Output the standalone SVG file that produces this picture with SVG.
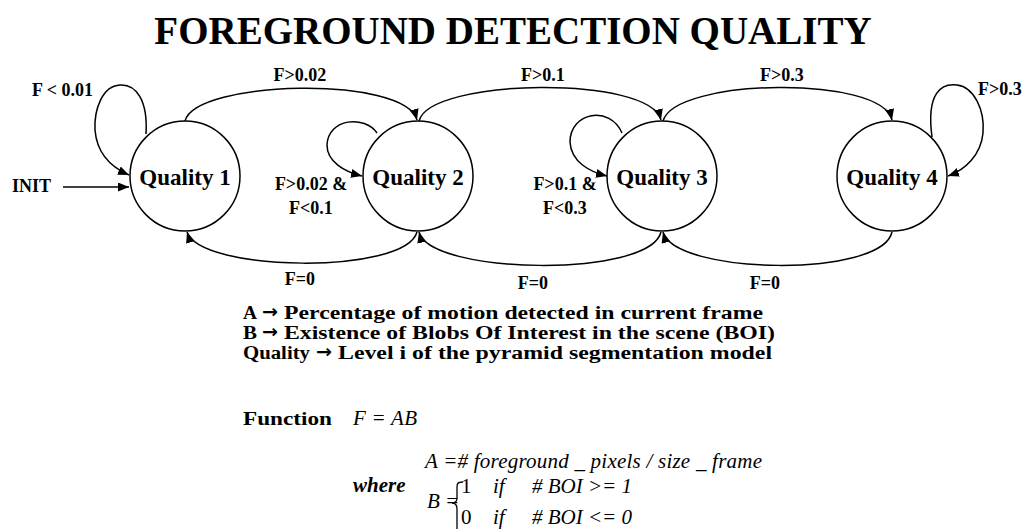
<svg xmlns="http://www.w3.org/2000/svg" width="1029" height="529" viewBox="0 0 1029 529">
<defs>
<marker id="ah" markerUnits="userSpaceOnUse" markerWidth="12" markerHeight="10" refX="11" refY="4.5" orient="auto">
<path d="M0,0 L11,4.5 L0,9 z" fill="#000"/>
</marker>
<style>
.st{fill:#fff;stroke:#000;stroke-width:1.5}
.ql{font-family:"Liberation Serif",serif;font-weight:bold;font-size:23px;text-anchor:middle}
.lb{font-family:"Liberation Serif",serif;font-weight:bold;font-size:18px}
.lg{font-family:"Liberation Serif",serif;font-weight:bold;font-size:18px}
.ar{font-family:"DejaVu Sans","Noto Sans",sans-serif;font-weight:bold;font-size:18px}
.c{text-anchor:middle}
.ed{fill:none;stroke:#000;stroke-width:1.5;marker-end:url(#ah)}
.m{font-family:"Liberation Serif",serif;font-style:italic;font-size:21px}
.n{font-family:"Liberation Serif",serif;font-size:21px}
</style>
</defs>
<rect width="1029" height="529" fill="#fff"/>
<text x="513" y="44" font-family="Liberation Serif, serif" font-weight="bold" font-size="39" text-anchor="middle">FOREGROUND DETECTION QUALITY</text>

<g id="connectors">
<path class="ed" d="M63,187 L129,187"/>
<path class="ed" d="M146,134 C148,100 136,84 120,85 C102,86 94,110 95,130 C97,155 113,168 129,175"/>
<path class="ed" d="M185,121 C195,80 405,75 417,120"/>
<path class="ed" d="M377,133 C365,115 328,118 327,145 C327,162 345,172 362,176"/>
<path class="ed" d="M419,121 C430,78 650,75 661,120"/>
<path class="ed" d="M622,133 C610,105 570,112 570,142 C571,162 590,172 607,176"/>
<path class="ed" d="M663,121 C675,78 882,75 892,120"/>
<path class="ed" d="M932,137 C926,92 942,83 957,85 C974,87 985,110 983,133 C981,155 965,170 948,176"/>
<path class="ed" d="M417,232 C405,275 200,272 187,232"/>
<path class="ed" d="M661,232 C650,278 430,275 419,232"/>
<path class="ed" d="M892,232 C882,278 675,275 663,232"/>
</g>

<g id="q1"><circle class="st" cx="185" cy="176" r="55"/><text class="ql" x="185" y="185">Quality 1</text></g>
<g id="q2"><circle class="st" cx="418" cy="176" r="55"/><text class="ql" x="418" y="185">Quality 2</text></g>
<g id="q3"><circle class="st" cx="662" cy="176" r="55"/><text class="ql" x="662" y="185">Quality 3</text></g>
<g id="q4"><circle class="st" cx="892" cy="176" r="55"/><text class="ql" x="892" y="185">Quality 4</text></g>

<g id="labels">
<text class="lb" x="12" y="192">INIT</text>
<text class="lb" x="32" y="96">F &lt; 0.01</text>
<text class="lb c" x="300" y="81">F&gt;0.02</text>
<text class="lb c" x="543" y="81">F&gt;0.1</text>
<text class="lb c" x="782" y="81">F&gt;0.3</text>
<text class="lb" x="978" y="95">F&gt;0.3</text>
<text class="lb c" x="311" y="190">F&gt;0.02 &amp;</text>
<text class="lb c" x="311" y="214">F&lt;0.1</text>
<text class="lb c" x="565" y="190">F&gt;0.1 &amp;</text>
<text class="lb c" x="565" y="214">F&lt;0.3</text>
<text class="lb c" x="300" y="285">F=0</text>
<text class="lb c" x="533" y="289">F=0</text>
<text class="lb c" x="765" y="289">F=0</text>
</g>

<g id="legend">
<text class="lg" x="243" y="319" textLength="14" lengthAdjust="spacingAndGlyphs">A</text>
<text class="ar" x="262" y="318" textLength="16" lengthAdjust="spacingAndGlyphs">→</text>
<text class="lg" x="284" y="319" textLength="479" lengthAdjust="spacingAndGlyphs">Percentage of motion detected in current frame</text>
<text class="lg" x="243" y="339" textLength="14" lengthAdjust="spacingAndGlyphs">B</text>
<text class="ar" x="262" y="338" textLength="16" lengthAdjust="spacingAndGlyphs">→</text>
<text class="lg" x="284" y="339" textLength="491" lengthAdjust="spacingAndGlyphs">Existence of Blobs Of Interest in the scene (BOI)</text>
<text class="lg" x="243" y="359" textLength="67" lengthAdjust="spacingAndGlyphs">Quality</text>
<text class="ar" x="316" y="358" textLength="16" lengthAdjust="spacingAndGlyphs">→</text>
<text class="lg" x="338" y="359" textLength="434" lengthAdjust="spacingAndGlyphs">Level i of the pyramid segmentation model</text>
<text class="lg" x="243" y="425" font-size="20" textLength="89" lengthAdjust="spacingAndGlyphs">Function</text>
<text class="m" x="353" y="425" textLength="64" lengthAdjust="spacing">F = AB</text>
<text class="m" x="425" y="468" textLength="337" lengthAdjust="spacing">A =# foreground _ pixels / size _ frame</text>
<text class="m" x="353" y="492" font-weight="bold">where</text>
<text class="m" x="427" y="508">B =</text>
<path d="M463,482 C457,482 457,484 457,488 L457,498 C457,501 455,503 452,503 C455,503 457,505 457,509 L457,532" fill="none" stroke="#000" stroke-width="1.3"/>
<text class="n" x="461" y="493">1</text>
<text class="m" x="493" y="493">if</text>
<text class="m" x="532" y="493" textLength="100" lengthAdjust="spacing"># BOI &gt;= 1</text>
<text class="n" x="461" y="524">0</text>
<text class="m" x="493" y="524">if</text>
<text class="m" x="532" y="524" textLength="100" lengthAdjust="spacing"># BOI &lt;= 0</text>
</g>
</svg>
